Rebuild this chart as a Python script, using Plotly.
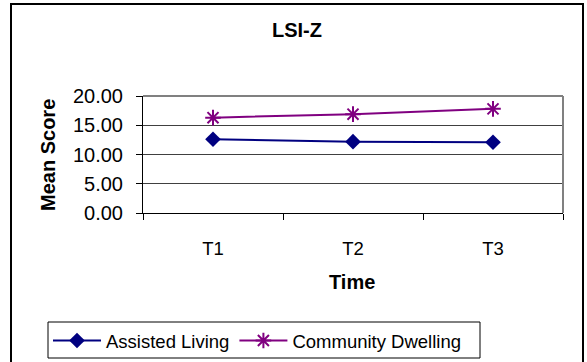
import plotly.graph_objects as go

# Mean LSI-Z scores at each time point
time_points = ["T1", "T2", "T3"]
assisted_living = [12.6, 12.2, 12.1]
community_dwelling = [16.3, 16.9, 17.8]
y_ticks = [0, 5, 10, 15, 20]
y_tick_labels = ["0.00", "5.00", "10.00", "15.00", "20.00"]

FONT = "Liberation Sans, Arial, sans-serif"

FIG_W, FIG_H = 587, 362
# plot area in pixels: x 143..563, y 96..213
L, R, T, B = 143, 563, 96, 213
W, H = R - L, B - T


def px_x(x):
    return (x - L) / W


def px_y(y):
    return (B - y) / H


fig = go.Figure()
fig.add_trace(go.Scatter(
    x=time_points, y=assisted_living, name="Assisted Living",
    mode="lines+markers",
    line=dict(color="#000080", width=2),
    marker=dict(symbol="diamond", size=12, color="#000080"),
))
fig.add_trace(go.Scatter(
    x=time_points, y=community_dwelling, name="Community Dwelling",
    mode="lines+markers",
    line=dict(color="#800080", width=2),
    marker=dict(symbol="asterisk-open", size=13, color="#800080",
                line=dict(color="#800080", width=2)),
))

fig.update_layout(
    width=FIG_W, height=FIG_H,
    margin=dict(l=L, r=FIG_W - R, t=T, b=FIG_H - B, autoexpand=False),
    paper_bgcolor="white", plot_bgcolor="white",
    font=dict(family=FONT, size=19, color="black"),
    showlegend=True,
    legend=dict(
        orientation="h",
        xref="container", x=48 / FIG_W, xanchor="left",
        yref="container", y=1 - 322 / FIG_H, yanchor="top",
        borderwidth=0, bgcolor="rgba(0,0,0,0)",
        font=dict(size=18.5, family=FONT), itemwidth=48,
        tracegroupgap=0,
    ),
    xaxis=dict(
        type="category", range=[-0.5, 2.5],
        tickson="boundaries", ticks="outside", ticklen=6, tickcolor="black",
        showline=True, linecolor="black", linewidth=1, mirror=False,
        showgrid=False, ticklabelstandoff=19,
        tickfont=dict(size=18.5),
    ),
    yaxis=dict(
        range=[0, 20], tickvals=y_ticks, ticktext=y_tick_labels,
        ticks="outside", ticklen=6, tickcolor="black",
        showline=True, linecolor="black", linewidth=1,
        showgrid=True, gridcolor="#404040", gridwidth=1,
        zeroline=False, ticklabelstandoff=9,
        tickfont=dict(size=20),
    ),
    annotations=[
        dict(text="<b>LSI-Z</b>", xref="paper", yref="paper",
             x=px_x(297), y=px_y(30), showarrow=False,
             xanchor="center", yanchor="middle", font=dict(size=20)),
        dict(text="<b>Time</b>", xref="paper", yref="paper",
             x=px_x(352), y=px_y(282), showarrow=False,
             xanchor="center", yanchor="middle", font=dict(size=20)),
        dict(text="<b>Mean Score</b>", xref="paper", yref="paper",
             x=px_x(48), y=px_y(155), showarrow=False, textangle=-90,
             xanchor="center", yanchor="middle", font=dict(size=20)),
    ],
    shapes=[
        # plot-area frame on the top and right
        dict(type="line", xref="paper", yref="paper", x0=0, x1=1, y0=1, y1=1,
             line=dict(color="#808080", width=2)),
        dict(type="line", xref="paper", yref="paper", x0=1, x1=1, y0=0, y1=1,
             line=dict(color="#808080", width=2)),
        # outer chart border
        dict(type="rect", xref="paper", yref="paper",
             x0=px_x(11), x1=px_x(583), y0=px_y(380), y1=px_y(4),
             line=dict(color="black", width=2), layer="below"),
        # legend frame
        dict(type="rect", xref="paper", yref="paper",
             x0=px_x(48), x1=px_x(480), y0=px_y(358), y1=px_y(322),
             line=dict(color="black", width=1), fillcolor="white",
             layer="below"),
    ],
)

fig.write_html("out.html")
